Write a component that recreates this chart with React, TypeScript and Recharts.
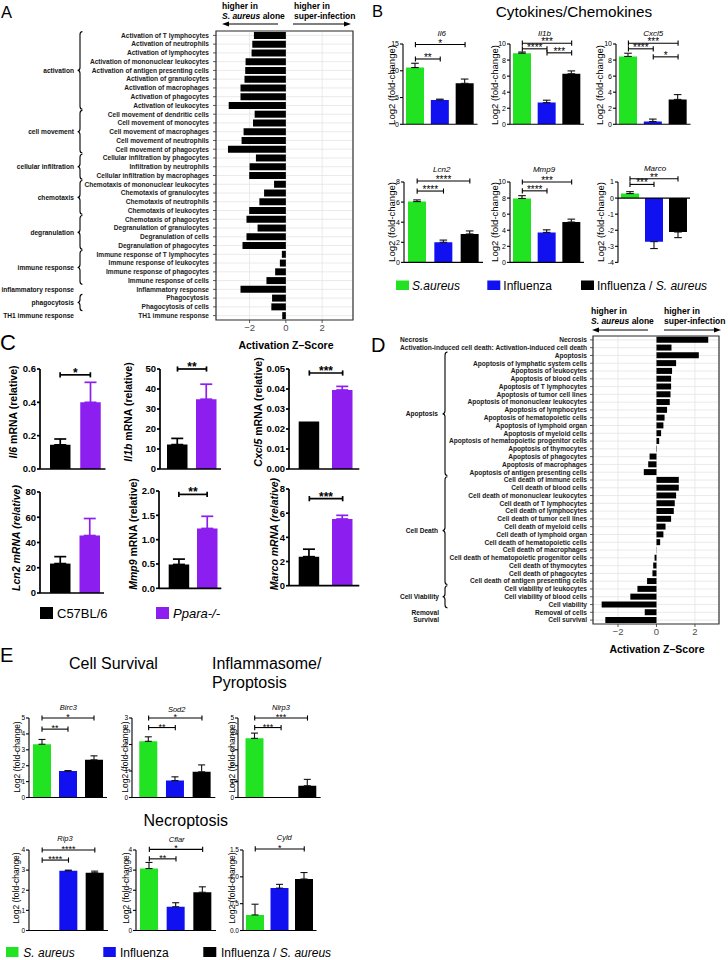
import React from 'react';
import {
  BarChart,
  Bar,
  XAxis,
  YAxis,
  CartesianGrid,
  Cell,
  ErrorBar,
  ReferenceLine,
  ReferenceArea,
} from 'recharts';

const FONT = '"Liberation Sans", Arial, Helvetica, sans-serif';
const GREEN = '#22e322';
const BLUE = '#1010f0';
const PURPLE = '#8c1ff0';

// ---------- A: functions, S. aureus alone vs super-infection ----------
const aLabels = [
  'Activation of T lymphocytes', 'Activation of neutrophils', 'Activation of lymphocytes',
  'Activation of mononuclear leukocytes', 'Activation of antigen presenting cells',
  'Activation of granulocytes', 'Activation of macrophages', 'Activation of phagocytes',
  'Activation of leukocytes',
  'Cell movement of dendritic cells', 'Cell movement of monocytes', 'Cell movement of macrophages',
  'Cell movement of neutrophils', 'Cell movement of phagocytes',
  'Cellular infiltration by phagocytes', 'Infiltration by neutrophils',
  'Cellular infiltration by macrophages',
  'Chemotaxis of mononuclear leukocytes', 'Chemotaxis of granulocytes',
  'Chemotaxis of neutrophils', 'Chemotaxis of leukocytes',
  'Chemotaxis of phagocytes', 'Degranulation of granulocytes', 'Degranulation of cells',
  'Degranulation of phagocytes',
  'Immune response of T lymphocytes', 'Immune response of leukocytes',
  'Immune response of phagocytes', 'Immune response of cells',
  'Inflammatory response',
  'Phagocytosis', 'Phagocytosis of cells',
  'TH1 immune response',
];
const aScores = [
  -1.76, -1.85, -1.89, -2.22, -2.24, -2.28, -2.5, -2.5, -3.15,
  -1.72, -1.81, -2.33, -2.44, -3.19,
  -1.65, -2.0, -2.02,
  -0.65, -1.2, -1.46, -2.02,
  -2.17, -1.56, -2.17, -2.39,
  -0.22, -0.33, -0.59, -1.07,
  -2.5,
  -0.76, -0.8,
  -0.2,
];
const aGroups = [
  'activation', 'cell movement', 'cellular infiltration', 'chemotaxis', 'degranulation',
  'immune response', 'inflammatory response', 'phagocytosis', 'TH1 immune response',
];
const aGroupSizes = [9, 5, 3, 4, 4, 4, 1, 2, 1];

// ---------- D: cell death functions ----------
const dLabels = [
  'Necrosis',
  'Activation-induced cell death: Activation-induced cell death',
  'Apoptosis', 'Apoptosis of lymphatic system cells', 'Apoptosis of leukocytes',
  'Apoptosis of blood cells', 'Apoptosis of T lymphocytes', 'Apoptosis of tumor cell lines',
  'Apoptosis of mononuclear leukocytes', 'Apoptosis of lymphocytes',
  'Apoptosis of hematopoietic cells', 'Apoptosis of lymphoid organ', 'Apoptosis of myeloid cells',
  'Apoptosis of hematopoietic progenitor cells', 'Apoptosis of thymocytes',
  'Apoptosis of phagocytes', 'Apoptosis of macrophages', 'Apoptosis of antigen presenting cells',
  'Cell death of immune cells', 'Cell death of blood cells', 'Cell death of mononuclear leukocytes',
  'Cell death of T lymphocytes', 'Cell death of lymphocytes', 'Cell death of tumor cell lines',
  'Cell death of myeloid cells', 'Cell death of lymphoid organ', 'Cell death of hematopoietic cells',
  'Cell death of macrophages', 'Cell death of hematopoietic progenitor cells',
  'Cell death of thymocytes', 'Cell death of phagocytes', 'Cell death of antigen presenting cells',
  'Cell viability of leukocytes', 'Cell viability of blood cells', 'Cell viability',
  'Removal of cells',
  'Cell survival',
];
const dScores = [
  2.69, 0.78,
  2.2, 1.02, 0.81, 0.76, 0.76, 0.73, 0.69, 0.55, 0.42, 0.36, 0.24, 0.14, -0.02, -0.36, -0.43, -0.66,
  1.16, 1.16, 1.02, 0.95, 0.9, 0.76, 0.47, 0.36, 0.19, 0.01, -0.1, -0.17, -0.21, -0.49,
  -0.99, -1.36, -2.85,
  -0.61,
  -2.66,
];
const dGroups = ['Necrosis', '', 'Apoptosis', 'Cell Death', 'Cell Viability', 'Removal', 'Survival'];
const dGroupSizes = [1, 1, 16, 14, 3, 1, 1];

const zTicks = [-2, 0, 2];

// ---------- B / E: qPCR fold change ----------
const treatments = ['S. aureus', 'Influenza', 'Influenza / S. aureus'];
const il6Mean = [10.6, 4.55, 7.65];
const il6Sem = [0.8, 0.15, 0.8];
const il1bMean = [8.85, 2.7, 6.3];
const il1bSem = [0.15, 0.3, 0.35];
const cxcl5Mean = [8.45, 0.35, 3.1];
const cxcl5Sem = [0.4, 0.3, 0.6];
const lcn2Mean = [6.05, 2.0, 2.83];
const lcn2Sem = [0.17, 0.22, 0.3];
const mmp9Mean = [7.95, 3.73, 5.02];
const mmp9Sem = [0.35, 0.32, 0.36];
const marcoMean = [0.28, -2.71, -2.11];
const marcoSem = [0.12, 0.43, 0.35];

const birc3Mean = [3.35, 1.66, 2.37];
const birc3Sem = [0.3, 0.03, 0.25];
const sod2Mean = [2.12, 0.64, 0.97];
const sod2Sem = [0.17, 0.14, 0.26];
const nlrp3Mean = [3.72, 0, 0.74];
const nlrp3Sem = [0.33, 0, 0.4];
const rip3Mean = [0, 2.97, 2.87];
const rip3Sem = [0, 0.03, 0.08];
const cflarMean = [3.08, 1.18, 1.9];
const cflarSem = [0.3, 0.2, 0.27];
const cyldMean = [0.29, 0.79, 0.96];
const cyldSem = [0.2, 0.07, 0.12];

// ---------- C: WT vs Ppara-/- ----------
const genotypes = ['C57BL/6', 'Ppara-/-'];
const cIl6Mean = [0.145, 0.4];
const cIl6Sem = [0.035, 0.12];
const cIl1bMean = [12.2, 34.9];
const cIl1bSem = [3.1, 7.5];
const cCxcl5Mean = [0.0237, 0.0395];
const cCxcl5Sem = [0, 0.0018];
const cLcn2Mean = [23.3, 45.5];
const cLcn2Sem = [5.5, 13.5];
const cMmp9Mean = [0.49, 1.23];
const cMmp9Sem = [0.11, 0.25];
const cMarcoMean = [2.4, 5.52];
const cMarcoSem = [0.62, 0.3];

type Bracket = { a: number; b: number; y: number; stars: string };

// ---------------------------------------------------------------------------

type ZCfg = {
  left: number; top: number; width: number; height: number;
  mt: number; mr: number; yw: number; xh: number; tickMargin: number;
  domain: [number, number]; band: number;
  labels: string[]; scores: number[]; groups: string[]; sizes: number[];
  groupX: number[]; groupAnchor: ('start' | 'middle' | 'end')[]; braceX: number;
};

function bracePath(x: number, top: number, bot: number) {
  const w = 2.4;
  const r = 3;
  const mid = (top + bot) / 2;
  return `M ${x + w} ${top} Q ${x} ${top} ${x} ${top + r} L ${x} ${mid - r} Q ${x} ${mid} ${x - w} ${mid} ` +
    `Q ${x} ${mid} ${x} ${mid + r} L ${x} ${bot - r} Q ${x} ${bot} ${x + w} ${bot}`;
}

function makeZTick(cfg: ZCfg) {
  const starts: number[] = [];
  let acc = 0;
  cfg.sizes.forEach((n) => { starts.push(acc); acc += n; });
  return (props: any) => {
    const { x, y, payload, index } = props;
    const g = starts.indexOf(index);
    let extra = null;
    if (g >= 0) {
      const n = cfg.sizes[g];
      const top = y - cfg.band / 2 + 0.6;
      const bot = y + (n - 1) * cfg.band + cfg.band / 2 - 0.6;
      const mid = (top + bot) / 2;
      extra = (
        <g>
          {cfg.groups[g] && (
            <text x={cfg.groupX[g]} y={mid} dy="0.35em" textAnchor={cfg.groupAnchor[g]}
              fontSize={6.6} fontWeight="bold" fill="#111">{cfg.groups[g]}</text>
          )}
          {n > 1 && <path d={bracePath(cfg.braceX, top, bot)} fill="none" stroke="#000" strokeWidth={1.1} />}
        </g>
      );
    }
    return (
      <g>
        <text x={x} y={y} dy="0.35em" textAnchor="end" fontSize={6.6} fontWeight="bold" fill="#1a1a1a">
          {payload.value}
        </text>
        {extra}
      </g>
    );
  };
}

const fmtZ = (v: number) => (v < 0 ? `\u2212${Math.abs(v)}` : `${v}`);

function ZChart({ cfg }: { cfg: ZCfg }) {
  const data = cfg.labels.map((label, i) => ({ label, z: cfg.scores[i] }));
  const tick = makeZTick(cfg);
  return (
    <div style={{ position: 'absolute', left: cfg.left, top: cfg.top }}>
      <BarChart layout="vertical" width={cfg.width} height={cfg.height} data={data}
        margin={{ top: cfg.mt, right: cfg.mr, bottom: 0, left: 0 }} barCategoryGap="10%">
        <CartesianGrid stroke="#e4e4e4" strokeWidth={0.8} />
        <XAxis type="number" dataKey="z" domain={cfg.domain} ticks={zTicks} allowDataOverflow height={cfg.xh}
          axisLine={false} tickLine={{ stroke: '#333', strokeWidth: 0.8 }} tickSize={3} tickMargin={1}
          tick={{ fontSize: 9.5, fill: '#4d4d4d' }} tickFormatter={fmtZ} />
        <YAxis type="category" dataKey="label" width={cfg.yw} interval={0} axisLine={false}
          tickLine={{ stroke: '#333', strokeWidth: 0.8 }} tickSize={3} tickMargin={cfg.tickMargin} tick={tick} />
        <Bar dataKey="z" fill="#000" isAnimationActive={false} />
        <ReferenceArea x1={cfg.domain[0]} x2={cfg.domain[1]} fill="none" stroke="#333" strokeWidth={1.2}
          ifOverflow="visible" />
      </BarChart>
    </div>
  );
}

const panelA: ZCfg = {
  left: 0, top: 0, width: 360, height: 352, mt: 31, mr: 7, yw: 216, xh: 32, tickMargin: 4,
  domain: [-3.85, 3.7], band: 289 / 33,
  labels: aLabels, scores: aScores, groups: aGroups, sizes: aGroupSizes,
  groupX: aGroups.map(() => 74), groupAnchor: aGroups.map(() => 'end' as const), braceX: 80,
};

const panelD: ZCfg = {
  left: 360, top: 300, width: 368, height: 360, mt: 36, mr: 9, yw: 233, xh: 36, tickMargin: 3,
  domain: [-3.3, 3.25], band: 288 / 37,
  labels: dLabels, scores: dScores, groups: dGroups, sizes: dGroupSizes,
  groupX: [54, 0, 78, 78, 79, 79, 79],
  groupAnchor: ['middle', 'end', 'end', 'end', 'end', 'end', 'end'], braceX: 85,
};

// ---------------------------------------------------------------------------

type MiniCfg = {
  ax: number; right: number; top: number; bottom: number; pad: number;
  domain: [number, number]; ticks: number[]; decimals: number;
  names: string[]; means: number[]; sems: number[]; colors: string[]; errColors: string[];
  brackets: Bracket[]; barSize: number; bold?: boolean; tickFs: number; starFs: number; cap: number;
};

function MiniBar({ c }: { c: MiniCfg }) {
  const yw = 34;
  const mt = 24;
  const mb = 6;
  const mr = 4;
  const plotH = c.bottom - c.top;
  const lw = c.bold ? 1.7 : 1.1;
  const data = c.names.map((name, i) => ({
    name,
    value: c.means[i],
    ec: c.errColors[i],
    err: c.sems[i] > 0 ? (c.means[i] < 0 ? [c.sems[i], 0] : [0, c.sems[i]]) : undefined,
  }));
  const errCols = Array.from(new Set(c.errColors));
  const capH = (2.6 * (c.domain[1] - c.domain[0])) / plotH;
  return (
    <div style={{ position: 'absolute', left: c.ax - yw, top: c.top - mt }}>
      <BarChart width={yw + (c.right - c.ax) + mr} height={mt + plotH + mb} data={data}
        margin={{ top: mt, right: mr, bottom: mb, left: 0 }}>
        <XAxis dataKey="name" type="category" hide padding={{ left: c.pad, right: 0 }} />
        <YAxis type="number" width={yw} domain={c.domain} ticks={c.ticks} interval={0} allowDataOverflow
          axisLine={{ stroke: '#000', strokeWidth: lw }} tickLine={{ stroke: '#000', strokeWidth: lw }}
          tickSize={3} tickMargin={1}
          tick={{ fontSize: c.tickFs, fill: '#000', fontWeight: c.bold ? 'bold' : 'normal' }}
          tickFormatter={(v: number) => v.toFixed(c.decimals)} />
        <Bar dataKey="value" barSize={c.barSize} isAnimationActive={false}>
          {data.map((d, i) => <Cell key={d.name} fill={c.colors[i]} />)}
          {errCols.map((col) => (
            <ErrorBar key={col} dataKey={(d: any) => (d.ec === col ? d.err : undefined)}
              stroke={col} strokeWidth={lw} width={c.cap} />
          ))}
        </Bar>
        <ReferenceLine y={0} stroke="#000" strokeWidth={lw} ifOverflow="visible" />
        {c.brackets.map((b, i) => [
          <ReferenceLine key={`h${i}`} segment={[{ x: c.names[b.a], y: b.y }, { x: c.names[b.b], y: b.y }]}
            stroke="#000" strokeWidth={lw} ifOverflow="visible"
            label={{ value: b.stars, position: 'top', offset: -2, fontSize: c.starFs, fill: '#000',
              fontWeight: c.bold ? 'bold' : 'normal' }} />,
          <ReferenceLine key={`l${i}`} segment={[{ x: c.names[b.a], y: b.y - capH }, { x: c.names[b.a], y: b.y + capH }]}
            stroke="#000" strokeWidth={lw} ifOverflow="visible" />,
          <ReferenceLine key={`r${i}`} segment={[{ x: c.names[b.b], y: b.y - capH }, { x: c.names[b.b], y: b.y + capH }]}
            stroke="#000" strokeWidth={lw} ifOverflow="visible" />,
        ])}
      </BarChart>
    </div>
  );
}

const triColors = [GREEN, BLUE, '#000'];
const triErr = ['#111', '#111', '#111'];
const bBase = { names: treatments, colors: triColors, errColors: triErr, barSize: 18, tickFs: 7, starFs: 10, cap: 3.8, pad: 0, decimals: 0 };

const bCharts: MiniCfg[] = [
  { ...bBase, ax: 403, right: 477.5, top: 44, bottom: 124.3, domain: [0, 15], ticks: [0, 5, 10, 15],
    means: il6Mean, sems: il6Sem, brackets: [{ a: 0, b: 1, y: 12.2, stars: '**' }, { a: 0, b: 2, y: 14.9, stars: '*' }] },
  { ...bBase, ax: 510, right: 584, top: 44, bottom: 124.3, domain: [0, 10], ticks: [0, 2, 4, 6, 8, 10],
    means: il1bMean, sems: il1bSem,
    brackets: [{ a: 0, b: 1, y: 9.4, stars: '****' }, { a: 0, b: 2, y: 10.1, stars: '***' }, { a: 1, b: 2, y: 8.9, stars: '***' }] },
  { ...bBase, ax: 615.5, right: 690, top: 44, bottom: 124.3, domain: [0, 10], ticks: [0, 2, 4, 6, 8, 10],
    means: cxcl5Mean, sems: cxcl5Sem,
    brackets: [{ a: 0, b: 1, y: 9.4, stars: '****' }, { a: 0, b: 2, y: 10.1, stars: '***' }, { a: 1, b: 2, y: 8.4, stars: '*' }] },
  { ...bBase, ax: 403.5, right: 482.5, top: 182.3, bottom: 262.7, domain: [0, 8], ticks: [0, 2, 4, 6, 8],
    means: lcn2Mean, sems: lcn2Sem, brackets: [{ a: 0, b: 1, y: 7.1, stars: '****' }, { a: 0, b: 2, y: 8.1, stars: '****' }] },
  { ...bBase, ax: 509.5, right: 583.5, top: 182.3, bottom: 262.7, domain: [0, 10], ticks: [0, 2, 4, 6, 8, 10],
    means: mmp9Mean, sems: mmp9Sem, brackets: [{ a: 0, b: 1, y: 8.9, stars: '****' }, { a: 0, b: 2, y: 10.0, stars: '***' }] },
  { ...bBase, ax: 618, right: 690, top: 182.3, bottom: 262.7, domain: [-4, 1], ticks: [-4, -3, -2, -1, 0, 1],
    means: marcoMean, sems: marcoSem, brackets: [{ a: 0, b: 1, y: 0.85, stars: '***' }, { a: 0, b: 2, y: 1.2, stars: '**' }] },
];

const eBase = { ...bBase, tickFs: 6.5, starFs: 9, cap: 3.5 };
const eCharts: MiniCfg[] = [
  { ...eBase, ax: 29, right: 107, top: 718, bottom: 797.5, domain: [0, 5], ticks: [0, 1, 2, 3, 4, 5],
    means: birc3Mean, sems: birc3Sem, brackets: [{ a: 0, b: 1, y: 4.3, stars: '**' }, { a: 0, b: 2, y: 5.0, stars: '*' }] },
  { ...eBase, ax: 131.7, pad: 3.3, right: 215, top: 718, bottom: 797.5, domain: [0, 3], ticks: [0, 1, 2, 3],
    means: sod2Mean, sems: sod2Sem, brackets: [{ a: 0, b: 1, y: 2.64, stars: '**' }, { a: 0, b: 2, y: 3.0, stars: '*' }] },
  { ...eBase, ax: 238.3, pad: 3.5, right: 321, top: 718, bottom: 797.5, domain: [0, 5], ticks: [0, 1, 2, 3, 4, 5],
    means: nlrp3Mean, sems: nlrp3Sem, brackets: [{ a: 0, b: 1, y: 4.4, stars: '***' }, { a: 0, b: 2, y: 5.0, stars: '***' }] },
  { ...eBase, ax: 28.5, right: 107.5, top: 849.5, bottom: 930, domain: [0, 4], ticks: [0, 1, 2, 3, 4],
    means: rip3Mean, sems: rip3Sem, brackets: [{ a: 0, b: 1, y: 3.5, stars: '****' }, { a: 0, b: 2, y: 4.0, stars: '****' }] },
  { ...eBase, ax: 136, right: 216, top: 849.5, bottom: 930, domain: [0, 4], ticks: [0, 1, 2, 3, 4],
    means: cflarMean, sems: cflarSem, brackets: [{ a: 0, b: 1, y: 3.56, stars: '**' }, { a: 0, b: 2, y: 4.03, stars: '*' }] },
  { ...eBase, ax: 242.5, right: 316, top: 849.5, bottom: 930, domain: [0, 1.5], ticks: [0, 0.5, 1, 1.5], decimals: 1,
    means: cyldMean, sems: cyldSem, brackets: [{ a: 0, b: 2, y: 1.52, stars: '*' }] },
];

const cBase = { names: genotypes, colors: ['#000', PURPLE], errColors: ['#000', PURPLE], barSize: 20.5, bold: true, tickFs: 9.5, starFs: 12, cap: 6 };
const cCharts: MiniCfg[] = [
  { ...cBase, ax: 39.5, pad: 5, right: 105, top: 369, bottom: 469, domain: [0, 0.6], ticks: [0, 0.2, 0.4, 0.6], decimals: 1,
    means: cIl6Mean, sems: cIl6Sem, brackets: [{ a: 0, b: 1, y: 0.565, stars: '*' }] },
  { ...cBase, ax: 160, pad: 3, right: 221, top: 369, bottom: 469, domain: [0, 50], ticks: [0, 10, 20, 30, 40, 50], decimals: 0,
    means: cIl1bMean, sems: cIl1bSem, brackets: [{ a: 0, b: 1, y: 50, stars: '**' }] },
  { ...cBase, ax: 289.3, pad: 3.7, right: 359.6, top: 369, bottom: 469, domain: [0, 0.05],
    ticks: [0, 0.01, 0.02, 0.03, 0.04, 0.05], decimals: 2,
    means: cCxcl5Mean, sems: cCxcl5Sem, brackets: [{ a: 0, b: 1, y: 0.048, stars: '***' }] },
  { ...cBase, ax: 40, pad: 5, right: 104, top: 491.5, bottom: 592.5, domain: [0, 80], ticks: [0, 20, 40, 60, 80], decimals: 0,
    means: cLcn2Mean, sems: cLcn2Sem, brackets: [] },
  { ...cBase, ax: 159.3, pad: 5.7, right: 221.6, top: 490.7, bottom: 588, domain: [0, 2], ticks: [0, 0.5, 1, 1.5, 2], decimals: 1,
    means: cMmp9Mean, sems: cMmp9Sem, brackets: [{ a: 0, b: 1, y: 1.93, stars: '**' }] },
  { ...cBase, ax: 289.3, pad: 3.7, right: 359.6, top: 489.3, bottom: 586, domain: [0, 8], ticks: [0, 2, 4, 6, 8], decimals: 0,
    means: cMarcoMean, sems: cMarcoSem, brackets: [{ a: 0, b: 1, y: 7.2, stars: '***' }] },
];

// ---------------------------------------------------------------------------

function Arrow({ x1, x2, y, head }: { x1: number; x2: number; y: number; head: 'left' | 'right' }) {
  const hx = head === 'left' ? x1 : x2;
  const d = head === 'left' ? 7 : -7;
  return (
    <g>
      <line x1={head === 'left' ? x1 + 5 : x1} x2={head === 'left' ? x2 : x2 - 5} y1={y} y2={y} stroke="#000" strokeWidth={1.2} />
      <polygon points={`${hx},${y} ${hx + d},${y - 2.6} ${hx + d},${y + 2.6}`} fill="#000" />
    </g>
  );
}

function VLabel({ x, y, fs, bold, children }: { x: number; y: number; fs: number; bold?: boolean; children: React.ReactNode }) {
  return (
    <text x={x} y={y} transform={`rotate(-90 ${x} ${y})`} textAnchor="middle" dy="0.35em" fontSize={fs}
      fontWeight={bold ? 'bold' : 'normal'} fill="#000">{children}</text>
  );
}

function Overlay() {
  const hb = { fontSize: 8.5, fontWeight: 'bold' as const, fill: '#000' };
  const it = { fontStyle: 'italic' as const };
  return (
    <svg width={728} height={960} style={{ position: 'absolute', left: 0, top: 0, pointerEvents: 'none' }}>
      {/* panel letters */}
      <text x={1} y={18.3} fontSize={16.5}>A</text>
      <text x={372} y={16.7} fontSize={16.5}>B</text>
      <text x={0} y={350} fontSize={22}>C</text>
      <text x={371} y={352} fontSize={20}>D</text>
      <text x={0} y={662} fontSize={20}>E</text>

      {/* A header */}
      <text x={222} y={9} {...hb}>higher in</text>
      <text x={222} y={18.5} {...hb}><tspan {...it}>S. aureus</tspan> alone</text>
      <Arrow x1={222} x2={278} y={24} head="left" />
      <text x={294} y={9} {...hb}>higher in</text>
      <text x={294} y={18.5} {...hb}>super-infection</text>
      <Arrow x1={293} x2={351} y={24} head="right" />
      <text x={286} y={349} textAnchor="middle" fontSize={10.5} fontWeight="bold">Activation Z–Score</text>

      {/* D header */}
      <text x={591} y={314} {...hb}>higher in</text>
      <text x={591} y={323.5} {...hb}><tspan {...it}>S. aureus</tspan> alone</text>
      <Arrow x1={592} x2={648} y={330} head="left" />
      <text x={664} y={314} {...hb}>higher in</text>
      <text x={664} y={323.5} {...hb}>super-infection</text>
      <Arrow x1={664} x2={721} y={330} head="right" />
      <text x={657} y={653} textAnchor="middle" fontSize={10.5} fontWeight="bold">Activation Z–Score</text>

      {/* B */}
      <text x={574} y={16.5} textAnchor="middle" fontSize={15.3}>Cytokines/Chemokines</text>
      <text x={441.7} y={35.5} textAnchor="middle" fontSize={8} fill="#000" {...it}>Il6</text>
      <text x={544.5} y={35.5} textAnchor="middle" fontSize={8} fill="#000" {...it}>Il1b</text>
      <text x={653.3} y={35.5} textAnchor="middle" fontSize={8} fill="#000" {...it}>Cxcl5</text>
      <text x={441.7} y={172} textAnchor="middle" fontSize={8} fill="#000" {...it}>Lcn2</text>
      <text x={544} y={172} textAnchor="middle" fontSize={8} fill="#000" {...it}>Mmp9</text>
      <text x={655} y={171} textAnchor="middle" fontSize={8} fill="#000" {...it}>Marco</text>
      <VLabel x={391.7} y={85} fs={9.5}>Log2 (fold-change)</VLabel>
      <VLabel x={495} y={85} fs={9.5}>Log2 (fold-change)</VLabel>
      <VLabel x={600} y={85} fs={9.5}>Log2 (fold-change)</VLabel>
      <VLabel x={391.5} y={222} fs={9.5}>Log2 (fold-change)</VLabel>
      <VLabel x={495} y={222} fs={9.5}>Log2 (fold-change)</VLabel>
      <VLabel x={600.5} y={222} fs={9.5}>Log2 (fold-change)</VLabel>
      <rect x={396} y={280.5} width={13} height={9.5} fill={GREEN} />
      <text x={412} y={289.5} fontSize={12} {...it}>S.aureus</text>
      <rect x={487.3} y={280.5} width={13} height={9.5} fill={BLUE} />
      <text x={503.3} y={289.5} fontSize={12}>Influenza</text>
      <rect x={581} y={280.5} width={13} height={9.5} fill="#000" />
      <text x={597} y={289.5} fontSize={12}>Influenza / <tspan {...it}>S. aureus</tspan></text>

      {/* C */}
      <VLabel x={13} y={412} fs={10.5} bold><tspan {...it}>Il6</tspan> mRNA (relative)</VLabel>
      <VLabel x={128} y={412} fs={10.5} bold><tspan {...it}>Il1b</tspan> mRNA (relative)</VLabel>
      <VLabel x={258.5} y={412} fs={10.5} bold><tspan {...it}>Cxcl5</tspan> mRNA (relative)</VLabel>
      <VLabel x={16} y={538} fs={10.5} bold><tspan {...it}>Lcn2 mRNA (relative)</tspan></VLabel>
      <VLabel x={133} y={534} fs={10.5} bold><tspan {...it}>Mmp9</tspan> mRNA (relative)</VLabel>
      <VLabel x={274} y={534} fs={10.5} bold><tspan {...it}>Marco mRNA (relative)</tspan></VLabel>
      <rect x={40} y={607} width={13} height={12} fill="#000" />
      <text x={57} y={618} fontSize={13}>C57BL/6</text>
      <rect x={156} y={607} width={13} height={12} fill={PURPLE} />
      <text x={173} y={618} fontSize={13} {...it}>Ppara-/-</text>

      {/* E */}
      <text x={69} y={669} fontSize={16}>Cell Survival</text>
      <text x={212} y={669} fontSize={16}>Inflammasome/</text>
      <text x={212} y={687.5} fontSize={16}>Pyroptosis</text>
      <text x={185.7} y={826} textAnchor="middle" fontSize={16}>Necroptosis</text>
      <text x={68.3} y={710} textAnchor="middle" fontSize={7.5} fill="#000" {...it}>Birc3</text>
      <text x={176.7} y={711.5} textAnchor="middle" fontSize={7.5} fill="#000" {...it}>Sod2</text>
      <text x={281} y={710} textAnchor="middle" fontSize={7.5} fill="#000" {...it}>Nlrp3</text>
      <text x={65} y={841} textAnchor="middle" fontSize={7.5} fill="#000" {...it}>Rip3</text>
      <text x={176.7} y={842} textAnchor="middle" fontSize={7.5} fill="#000" {...it}>Cflar</text>
      <text x={284.3} y={840} textAnchor="middle" fontSize={7.5} fill="#000" {...it}>Cyld</text>
      <VLabel x={16.7} y={757} fs={8.5}>Log2 (fold-change)</VLabel>
      <VLabel x={125} y={757} fs={8.5}>Log2 (fold-change)</VLabel>
      <VLabel x={232} y={757} fs={8.5}>Log2 (fold-change)</VLabel>
      <VLabel x={16.3} y={888} fs={8.5}>Log2 (fold-change)</VLabel>
      <VLabel x={126} y={888} fs={8.5}>Log2 (fold-change)</VLabel>
      <VLabel x={231.7} y={888} fs={8.5}>Log2 (fold-change)</VLabel>
      <rect x={6} y={947} width={12.5} height={10} fill={GREEN} />
      <text x={23.3} y={956.5} fontSize={12} {...it}>S. aureus</text>
      <rect x={103.3} y={947} width={12.5} height={10} fill={BLUE} />
      <text x={120} y={956.5} fontSize={12}>Influenza</text>
      <rect x={203.3} y={947} width={13} height={10} fill="#000" />
      <text x={221} y={956.5} fontSize={12}>Influenza / <tspan {...it}>S. aureus</tspan></text>
    </svg>
  );
}

export default function App() {
  return (
    <div style={{ position: 'absolute', left: 0, top: 0, width: 728, height: 960, background: '#fff', fontFamily: FONT }}>
      <ZChart cfg={panelA} />
      <ZChart cfg={panelD} />
      {bCharts.map((c, i) => <MiniBar key={`b${i}`} c={c} />)}
      {cCharts.map((c, i) => <MiniBar key={`c${i}`} c={c} />)}
      {eCharts.map((c, i) => <MiniBar key={`e${i}`} c={c} />)}
      <Overlay />
    </div>
  );
}
